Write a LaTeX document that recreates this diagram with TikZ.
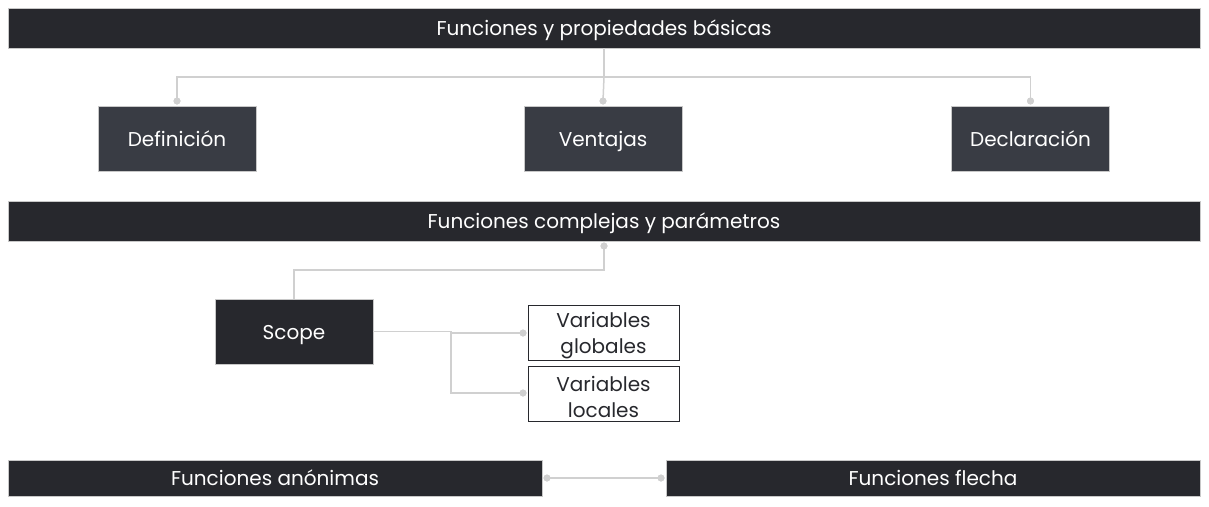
\documentclass[tikz,border=0pt]{standalone}
\usepackage{fontspec}
\setmainfont{Poppins}
\definecolor{barfill}{HTML}{27282D}
\definecolor{boxfill}{HTML}{393C44}
\definecolor{linec}{HTML}{D0D0D0}
\definecolor{edgec}{HTML}{C8C8C8}
\tikzset{
  txt/.style={font=\fontsize{20}{26}\selectfont, text height=16pt, text depth=1pt},
  bar/.style={txt, draw=edgec, fill=barfill, text=white, inner sep=0pt, line width=0.6pt},
  darkbox/.style={txt, draw=edgec, fill=boxfill, text=white, inner sep=0pt, line width=0.6pt},
  scopebox/.style={txt, draw=edgec, fill=barfill, text=white, inner sep=0pt, line width=0.6pt},
  whitebox/.style={draw=barfill, fill=white, inner sep=0pt, line width=0.9pt, minimum width=151pt, minimum height=55pt},
  whitetext/.style={text=barfill, align=center, font=\fontsize{20}{26}\selectfont, inner sep=0pt},
  conn/.style={draw=linec, line width=1.5pt},
  dot/.style={circle, fill=linec, inner sep=0pt, minimum size=7pt}
}
\begin{document}
\begin{tikzpicture}[x=1pt,y=-1pt]
\useasboundingbox (0,0) rectangle (1209,506);
% boxes
\node[bar, minimum width=1192pt, minimum height=40pt] (top) at (604,28) {Funciones y propiedades básicas};
\node[darkbox, minimum width=158pt, minimum height=65pt] (def) at (177,138.5) {Definición};
\node[darkbox, minimum width=158pt, minimum height=65pt] (ven) at (603,138.5) {Ventajas};
\node[darkbox, minimum width=158pt, minimum height=65pt] (dec) at (1030.5,138.5) {Declaración};
\node[bar, minimum width=1192pt, minimum height=40pt] (mid) at (604,221) {Funciones complejas y parámetros};
\node[scopebox, minimum width=158pt, minimum height=65pt] (scope) at (294,331.5) {Scope};
\node[whitebox] (glob) at (603.5,332.5) {};
\node[whitetext] (globt) at (603.5,336) {Variables\\globales};
\node[whitebox] (loc) at (603.5,393.5) {};
\node[whitetext] (loct) at (603.5,397) {Variables\\locales};
\node[bar, minimum width=534pt, minimum height=36pt] (anon) at (275,478) {Funciones anónimas};
\node[bar, minimum width=534pt, minimum height=36pt] (flecha) at (933,478) {Funciones flecha};
% junction and dots
\coordinate (j1) at (604,77);
\node[dot] (d1) at (177,101) {};
\node[dot] (d2) at (603,101) {};
\node[dot] (d3) at (1030.5,101) {};
\node[dot] (d4) at (604,246) {};
\node[dot] (d5) at (523,333) {};
\node[dot] (d6) at (523,393) {};
\node[dot] (d7) at (547,478) {};
\node[dot] (d8) at (661,478) {};
\coordinate (j2) at (451,331.5);
% connectors
\draw[conn] (top.south) -- (j1);
\draw[conn] (d1.center) |- (j1) -| (d3.center);
\draw[conn] (j1) -- (d2.center);
\draw[conn] (scope.north) |- (604,270) -- (d4.center);
\draw[conn] (scope.east) -- (j2) |- (d5.center);
\draw[conn] (j2) |- (d6.center);
\draw[conn] (d7.center) -- (d8.center);
\foreach \d in {d1,d2,d3,d4,d5,d6,d7,d8} \node[dot] at (\d) {};
\end{tikzpicture}
\end{document}
